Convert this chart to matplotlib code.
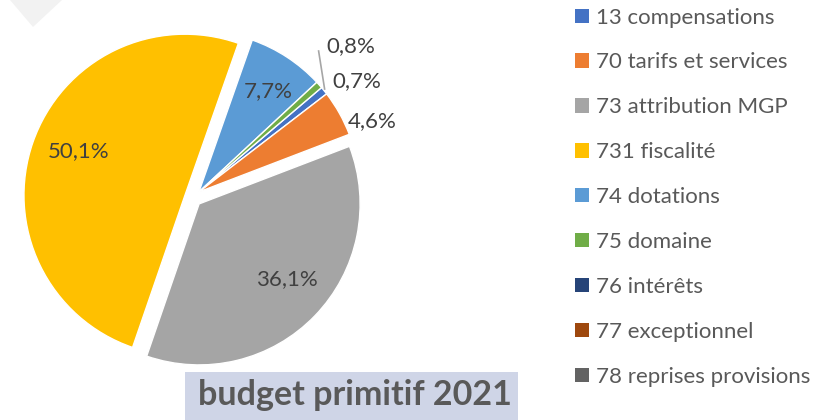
import numpy as np
import matplotlib
matplotlib.use("Agg")
import matplotlib.pyplot as plt
from matplotlib.patches import Patch, Polygon, Rectangle

# Données du graphique (budget primitif 2021)
categories = ["13 compensations", "70 tarifs et services", "73 attribution MGP",
              "731 fiscalité", "74 dotations", "75 domaine", "76 intérêts",
              "77 exceptionnel", "78 reprises provisions"]
parts = [0.8, 4.6, 36.1, 50.1, 7.7, 0.7, 0.0, 0.0, 0.0]
etiquettes = ["0,8%", "4,6%", "36,1%", "50,1%", "7,7%", "0,7%", "", "", ""]
couleurs = ["#4472C4", "#ED7D31", "#A5A5A5", "#FFC000", "#5B9BD5",
            "#70AD47", "#264478", "#9E480E", "#636363"]

# réglages de placement des étiquettes (rayon relatif, décalage angulaire)
rayon_label = [1.36, 1.21, 0.77, 0.77, 0.81, 1.25, 0, 0, 0]
decalage_angle = [5, -6, 3, -3, -2, -6, 0, 0, 0]

plt.rcParams["font.family"] = ["Lato", "DejaVu Sans"]

fig = plt.figure(figsize=(8.24, 4.2), dpi=100)
ax = fig.add_axes([0, 0, 1, 1])

cx, cy, R = 193, 222, 161
idx = [i for i, v in enumerate(parts) if v > 0]
vals = [parts[i] for i in idx]
petites = [parts[i] < 10 for i in idx]
# explode en unités de données (pixels ici); les petites parts sont décalées ensemble
wedges, _ = ax.pie(vals, colors=[couleurs[i] for i in idx], startangle=40.4,
                   counterclock=False, center=(cx, cy), radius=R,
                   explode=[0 if p else 8.5 for p in petites],
                   wedgeprops=dict(edgecolor="white", linewidth=1))

groupe = [w for w, p in zip(wedges, petites) if p]
t_min = min(w.theta1 % 360 for w in groupe)
t_max = max(w.theta2 % 360 for w in groupe)
t_mid = np.deg2rad((t_min + t_max) / 2)
for w in groupe:
    w.set_center((cx + 8.5 * np.cos(t_mid), cy + 8.5 * np.sin(t_mid)))

for w, i in zip(wedges, idx):
    mid = np.deg2rad((w.theta1 + w.theta2) / 2 + decalage_angle[i])
    r = rayon_label[i] * R
    x = cx + r * np.cos(mid)
    y = cy + r * np.sin(mid)
    ax.text(x, y, etiquettes[i], ha="center", va="center", fontsize=16,
            color="#404040")
    if categories[i].startswith("13"):
        # trait de rappel pour la petite part
        ax.plot([x - 32, x - 26], [y - 5, y - 43], color="#A6A6A6", lw=1.2)

# petit triangle gris décoratif en haut à gauche
ax.add_patch(Polygon([[10, 420], [62, 420], [33, 393]], closed=True,
                     facecolor="#F2F2F2", edgecolor="none"))

# titre dans un cadre
ax.add_patch(Rectangle((185, 0), 333, 48, facecolor="#CFD5E7", edgecolor="none"))
ax.text(355, 25, "budget primitif 2021", ha="center", va="center",
        fontsize=24.5, fontweight="bold", color="#595959")

ax.set_xlim(0, 824)
ax.set_ylim(0, 420)
ax.set_aspect("equal")
ax.axis("off")

handles = [Patch(facecolor=c, edgecolor="none") for c in couleurs]
leg = fig.legend(handles, categories, loc="upper left", bbox_to_anchor=(0.698, 0.982),
                 frameon=False, fontsize=16, handlelength=0.62, handleheight=0.62,
                 handletextpad=0.3, labelspacing=1.12, borderaxespad=0.0,
                 borderpad=0.0)
for t in leg.get_texts():
    t.set_color("#595959")

fig.savefig("out.png", dpi=100)
